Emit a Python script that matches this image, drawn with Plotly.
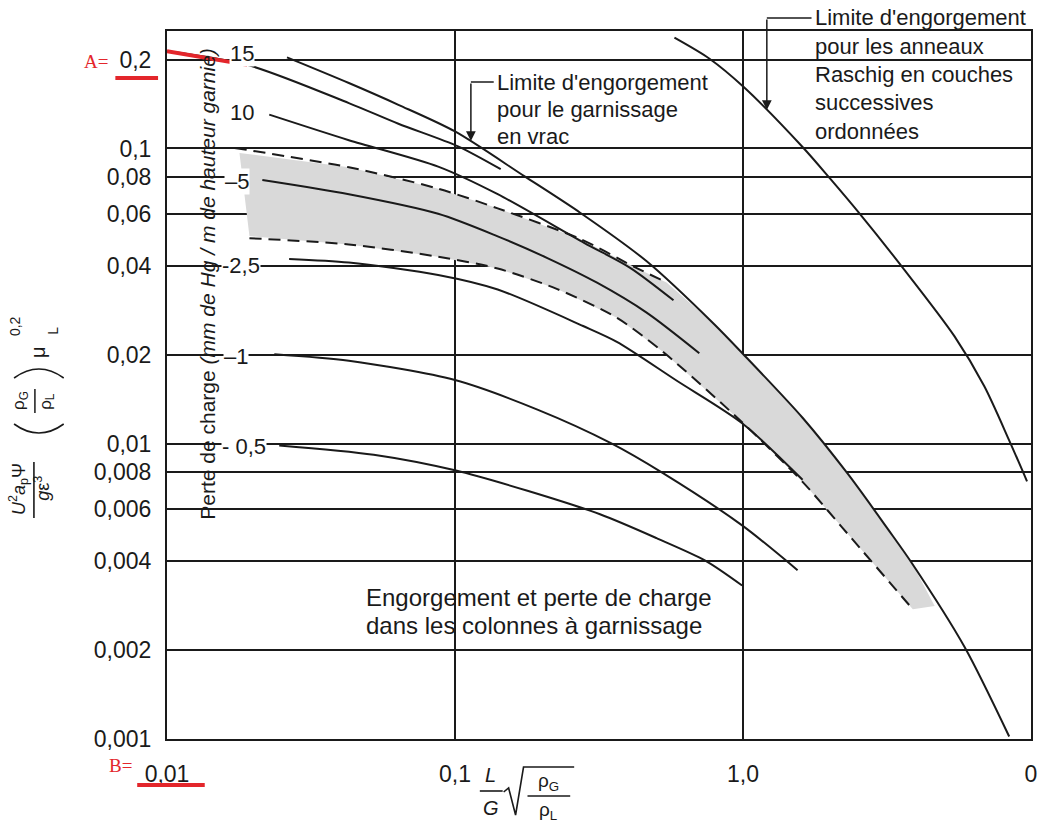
import plotly.graph_objects as go

# ---------------- data ----------------
# flooding limit, random packing ("Limite d'engorgement pour le garnissage en vrac")
flood_x = [0.0261, 0.0428, 0.0636, 0.100, 0.174, 0.272, 0.463, 0.788, 0.993, 1.61, 2.32, 3.19, 3.86, 5.88, 8.40]
flood_y = [0.2035, 0.1666, 0.1406, 0.1142, 0.0806, 0.0606, 0.0415, 0.0256, 0.0203, 0.01225, 0.00787, 0.00513, 0.00394, 0.00205, 0.00102]

# flooding limit, stacked Raschig rings
raschig_x = [0.578, 0.763, 1.008, 1.61, 2.011, 2.512, 3.562, 5.427, 6.885, 8.398, 9.687]
raschig_y = [0.2374, 0.2018, 0.1612, 0.1012, 0.0789, 0.0610, 0.0398, 0.0231, 0.01565, 0.01027, 0.00746]

# pressure-drop curves (mm Hg / m of packing)
line15_x = [0.0100, 0.0190, 0.0428, 0.0636, 0.1024, 0.1441]
line15_y = [0.2135, 0.1920, 0.1425, 0.1213, 0.1017, 0.0851]

line10_x = [0.02265, 0.0428, 0.0874, 0.1407, 0.2807, 0.4044, 0.5737]
line10_y = [0.1302, 0.1067, 0.0868, 0.0700, 0.0479, 0.0395, 0.0306]

line5_x = [0.02143, 0.0428, 0.0874, 0.1407, 0.2093, 0.3113, 0.4628, 0.7051]
line5_y = [0.0782, 0.0700, 0.0601, 0.0504, 0.04254, 0.0351, 0.0278, 0.02025]

line2_5_x = [0.02655, 0.0428, 0.0874, 0.1407, 0.2785, 0.3648, 0.5875, 0.993, 1.61]
line2_5_y = [0.04227, 0.0411, 0.0373, 0.0333, 0.02505, 0.02214, 0.01638, 0.01174, 0.00755]

line1_x = [0.02358, 0.0428, 0.100, 0.1933, 0.3478, 0.5256, 0.993, 1.547]
line1_y = [0.0201, 0.0191, 0.01643, 0.01305, 0.01005, 0.00797, 0.00529, 0.00373]

line0_5_x = [0.02453, 0.0522, 0.100, 0.1785, 0.3188, 0.501, 0.7396, 0.993]
line0_5_y = [0.00987, 0.00918, 0.00813, 0.00693, 0.00577, 0.00479, 0.00402, 0.00331]

# dashed limits of the shaded band
dash_up_x = [0.01716, 0.0428, 0.0874, 0.1407, 0.272, 0.4175, 0.5427]
dash_up_y = [0.1004, 0.0864, 0.0731, 0.0627, 0.0494, 0.0398, 0.0352]

dash_low_x = [0.01933, 0.0428, 0.0874, 0.1407, 0.2266, 0.3648, 0.5297, 0.993, 1.61, 2.212, 3.888]
dash_low_y = [0.0497, 0.0473, 0.0430, 0.0392, 0.0334, 0.0267, 0.0204, 0.01183, 0.00743, 0.0052, 0.00275]

# shaded band outline
band_up_x = [0.01785, 0.0428, 0.0874, 0.1407, 0.272, 0.4175, 0.5427, 0.788, 0.993, 1.61, 2.32, 3.19, 3.86, 4.63]
band_up_y = [0.0966, 0.0864, 0.0731, 0.0627, 0.0494, 0.0398, 0.0352, 0.0256, 0.0203, 0.01225, 0.00787, 0.00513, 0.00394, 0.00282]
band_low_x = [0.01933, 0.0428, 0.0874, 0.1407, 0.2266, 0.3648, 0.5297, 0.993, 1.61, 2.212, 3.888]
band_low_y = [0.0505, 0.0473, 0.0430, 0.0392, 0.0334, 0.0267, 0.0204, 0.01183, 0.00743, 0.0052, 0.00275]

# red highlight on the curve ("A = 0,2")
red_x = [0.0100, 0.0190]
red_y = [0.2135, 0.1920]

# ticks
x_tickvals = [0.01, 0.1, 1, 10]
x_ticktext = ["0,01", "0,1", "1,0", "0"]
y_tickvals = [0.001, 0.002, 0.004, 0.006, 0.008, 0.01, 0.02, 0.04, 0.06, 0.08, 0.1, 0.2]
y_ticktext = ["0,001", "0,002", "0,004", "0,006", "0,008", "0,01", "0,02", "0,04", "0,06", "0,08", "0,1", "0,2"]

curve_labels = ["15", "10", "–5", "-2,5", "–1", "- 0,5"]

note_vrac = ["Limite d'engorgement", "pour le garnissage", "en vrac"]
note_raschig = ["Limite d'engorgement", "pour les anneaux", "Raschig en couches", "successives", "ordonnées"]
caption = ["Engorgement et perte de charge", "dans les colonnes à garnissage"]

# ---------------- layout helpers (pixel -> paper) ----------------
W, H = 1047, 829
ML, MR, MT, MB = 167, 10, 31, 90
PW, PH = W - ML - MR, H - MT - MB


def PX(x):
    return (x - ML) / PW


def PY(y):
    return (H - MB - y) / PH


INK = "#1a1a1a"
FONT = "Liberation Sans, Arial, Helvetica, sans-serif"

fig = go.Figure()

# shaded band
fig.add_trace(go.Scatter(
    x=band_up_x + band_low_x[::-1], y=band_up_y + band_low_y[::-1],
    fill="toself", fillcolor="#d9d9d9", line=dict(width=0), mode="lines",
    hoverinfo="skip", showlegend=False))

solid = dict(color=INK, width=2, shape="spline", smoothing=0.8)
dashed = dict(color=INK, width=2, shape="spline", smoothing=0.8, dash="12px,7px")

for xs, ys in [(flood_x, flood_y), (raschig_x, raschig_y), (line15_x, line15_y),
               (line10_x, line10_y), (line5_x, line5_y), (line2_5_x, line2_5_y),
               (line1_x, line1_y), (line0_5_x, line0_5_y)]:
    fig.add_trace(go.Scatter(x=xs, y=ys, mode="lines", line=solid, showlegend=False, hoverinfo="skip"))

for xs, ys in [(dash_up_x, dash_up_y), (dash_low_x, dash_low_y)]:
    fig.add_trace(go.Scatter(x=xs, y=ys, mode="lines", line=dashed, showlegend=False, hoverinfo="skip"))

fig.add_trace(go.Scatter(x=red_x, y=red_y, mode="lines", line=dict(color="#e3262b", width=4),
                         showlegend=False, hoverinfo="skip"))

shapes = []
annotations = []


def txt(x, y, text, size=21, angle=0, xanchor="center", align="center", bg=None, color=INK,
        family=FONT, yanchor="middle"):
    a = dict(x=PX(x), y=PY(y), xref="paper", yref="paper", text=text, showarrow=False,
             textangle=angle, xanchor=xanchor, yanchor=yanchor, align=align,
             font=dict(size=size, color=color, family=family))
    if bg:
        a["bgcolor"] = bg
        a["borderpad"] = 0
    annotations.append(a)


def seg(x0, y0, x1, y1, color=INK, width=1.6, layer="above"):
    shapes.append(dict(type="line", xref="paper", yref="paper", x0=PX(x0), y0=PY(y0),
                       x1=PX(x1), y1=PY(y1), line=dict(color=color, width=width), layer=layer))


def arc(x0, y0, xc, yc, x1, y1, width=1.6):
    shapes.append(dict(type="path", xref="paper", yref="paper",
                       path=f"M {PX(x0)} {PY(y0)} Q {PX(xc)} {PY(yc)} {PX(x1)} {PY(y1)}",
                       line=dict(color=INK, width=width)))


# white strip behind the rotated axis note (hides gridlines, under curves)
shapes.append(dict(type="rect", xref="paper", yref="paper", x0=PX(196), x1=PX(219),
                   y0=PY(528), y1=PY(40), fillcolor="white", line=dict(width=0), layer="between"))

txt(207, 284, "Perte de charge <i>(mm de Hg / m de hauteur garnie)</i>", size=21, angle=-90)

# curve labels
label_pos = [(243, 54), (243, 112), (237, 181), (242, 265), (236, 356), (245, 446)]
for (lx, ly), lab in zip(label_pos, curve_labels):
    txt(lx, ly, lab, size=22, bg="white")

# annotation: random packing flooding
for i, line in enumerate(note_vrac):
    txt(497, 82 + 27 * i, line, size=22, xanchor="left", align="left")
seg(473, 82, 496, 82, width=1.5)
annotations.append(dict(x=PX(473), y=PY(141), xref="paper", yref="paper", ax=0, ay=-59,
                        showarrow=True, arrowhead=2, arrowsize=1.3, arrowwidth=1.5,
                        arrowcolor=INK, text=""))

# annotation: stacked Raschig rings
for i, line in enumerate(note_raschig):
    txt(817, 18 + 28.3 * i, line, size=22, xanchor="left", align="left")
seg(771, 18, 816, 18, width=1.5)
annotations.append(dict(x=PX(771), y=PY(110), xref="paper", yref="paper", ax=0, ay=-92,
                        showarrow=True, arrowhead=2, arrowsize=1.3, arrowwidth=1.5,
                        arrowcolor=INK, text=""))

# bottom caption (white box hides the 0.1 gridline under it)
shapes.append(dict(type="rect", xref="paper", yref="paper", x0=PX(362), x1=PX(722),
                   y0=PY(641), y1=PY(581), fillcolor="white", line=dict(width=0), layer="between"))
for i, line in enumerate(caption):
    txt(365, 597 + 28 * i, line, size=24, xanchor="left", align="left")

# y-axis title pieces
txt(17, 489, "<i>U</i><sup>2</sup><i>a</i><sub>p</sub>Ψ", size=18, angle=-90)
seg(33, 462, 33, 518, width=1.6)
txt(41, 488, "<i>g</i>ε<sup>3</sup>", size=18, angle=-90)
arc(13, 424, 38, 442, 63, 424)   # opening parenthesis (rotated)
arc(13, 378, 38, 360, 63, 378)   # closing parenthesis (rotated)
txt(19, 401, "ρ<sub>G</sub>", size=17, angle=-90)
seg(34, 389, 34, 413, width=1.5)
txt(46, 401, "ρ<sub>L</sub>", size=17, angle=-90)
txt(37, 352, "μ", size=20, angle=-90)
txt(14, 326, "0,2", size=14, angle=-90)
txt(52, 331, "L", size=14, angle=-90)

# x-axis title pieces
txt(493, 775, "<i>L</i>", size=20)
seg(482, 791, 505, 791, width=1.6)
txt(493, 808, "<i>G</i>", size=20)
shapes.append(dict(type="path", xref="paper", yref="paper",
                   path=f"M {PX(506)} {PY(792)} L {PX(511)} {PY(788)} L {PX(518)} {PY(815)} "
                        f"L {PX(526)} {PY(767)} L {PX(577)} {PY(767)}",
                   line=dict(color=INK, width=1.6)))
txt(551, 782, "ρ<sub>G</sub>", size=19)
seg(530, 796, 573, 796, width=1.6)
txt(551, 811, "ρ<sub>L</sub>", size=19)

# red marks
txt(96, 61, "A=", size=19, color="#e3262b", family="Liberation Serif, Times New Roman, serif")
seg(115, 78, 158, 78, color="#e3262b", width=4)
txt(120, 766, "B=", size=19, color="#e3262b", family="Liberation Serif, Times New Roman, serif")
seg(137, 785, 205, 785, color="#e3262b", width=4)

fig.update_layout(
    width=W, height=H,
    margin=dict(l=ML, r=MR, t=MT, b=MB, pad=0),
    paper_bgcolor="white", plot_bgcolor="white",
    showlegend=False,
    shapes=shapes, annotations=annotations,
    font=dict(family=FONT, color=INK),
)
fig.update_xaxes(type="log", range=[-2, 1], tickvals=x_tickvals, ticktext=x_ticktext,
                 showgrid=True, gridcolor=INK, gridwidth=1.6, showline=True, mirror=True,
                 linecolor=INK, linewidth=2, ticks="", ticklabelstandoff=13,
                 tickfont=dict(size=23, color=INK, family=FONT), zeroline=False)
fig.update_yaxes(type="log", range=[-3, -0.60206], tickvals=y_tickvals, ticktext=y_ticktext,
                 showgrid=True, gridcolor=INK, gridwidth=1.6, showline=True, mirror=True,
                 linecolor=INK, linewidth=2, ticks="", ticklabelstandoff=9,
                 tickfont=dict(size=23, color=INK, family=FONT), zeroline=False)

fig.write_html("out.html", config={"displayModeBar": False},
               post_script="document.body.style.margin='0px';document.body.style.padding='0px';")
